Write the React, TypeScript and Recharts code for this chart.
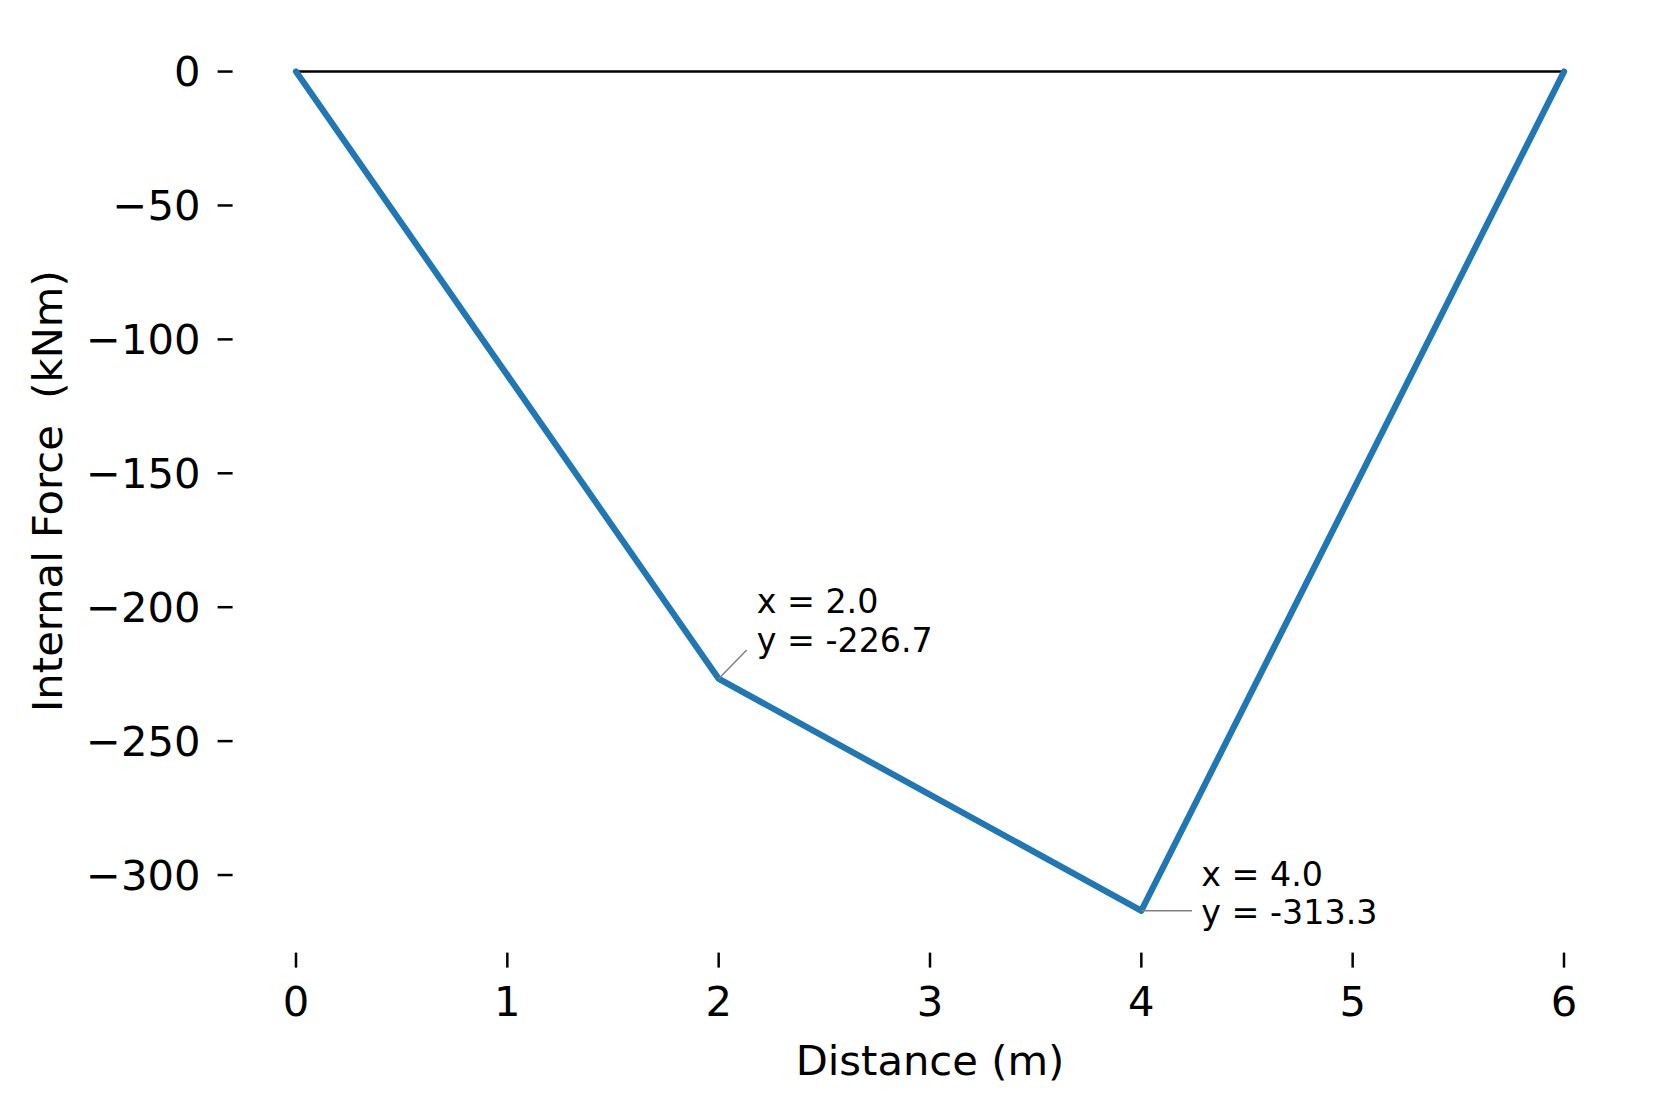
import { LineChart, Line, XAxis, YAxis, ReferenceDot } from "recharts"

// bending moment diagram
const distance = [0, 2, 4, 6]
const moment = [0, -226.7, -313.3, 0]
const xTicks = [0, 1, 2, 3, 4, 5, 6]
const yTicks = [-300, -250, -200, -150, -100, -50, 0]
const peaks = [
  { x: 2, y: -226.7 },
  { x: 4, y: -313.3 },
]

const FONT = "DejaVu Sans"
const BLUE = "#1f77b4"

const data = distance.map((d, i) => ({ x: d, moment: moment[i], base: 0 }))

// matplotlib-like 5% padding
const yMin = Math.min(...moment)
const yMax = Math.max(...moment)
const yPad = (yMax - yMin) * 0.05
const xPad = (distance[distance.length - 1] - distance[0]) * 0.05

const minus = (v: number) => String(v).replace("-", "\u2212")

function Annotation(props: any) {
  const { cx, cy, idx } = props
  const p = peaks[idx]
  // leader line + two line label, offsets as in the reference
  const layout =
    idx === 0
      ? { lx: 28, ly: -28.7, tx: 38, b1: -66, b2: -27 }
      : { lx: 50.7, ly: 0, tx: 60, b1: -25, b2: 13.4 }
  return (
    <g>
      <line x1={cx} y1={cy} x2={cx + layout.lx} y2={cy + layout.ly} stroke="#808080" strokeWidth={1.5} />
      <text x={cx + layout.tx} y={cy + layout.b1} fontFamily={FONT} fontSize={33.3} fill="#000">
        {`x = ${p.x.toFixed(1)}`}
      </text>
      <text x={cx + layout.tx} y={cy + layout.b2} fontFamily={FONT} fontSize={33.3} fill="#000">
        {`y = ${p.y.toFixed(1)}`}
      </text>
    </g>
  )
}

function YLabel(props: any) {
  const vb = props.viewBox
  const cx = vb.x + 62.5
  const cy = vb.y + vb.height / 2
  return (
    <text
      x={cx}
      y={cy}
      transform={`rotate(-90 ${cx} ${cy})`}
      textAnchor="middle"
      fontFamily={FONT}
      fontSize={41.7}
      fill="#000"
      style={{ whiteSpace: "pre" }}
    >
      Internal Force  (kNm)
    </text>
  )
}

function XLabel(props: any) {
  const vb = props.viewBox
  return (
    <text x={vb.x + vb.width / 2} y={vb.y + 122.4} textAnchor="middle" fontFamily={FONT} fontSize={41.7} fill="#000">
      Distance (m)
    </text>
  )
}

export default function App() {
  return (
    <div style={{ position: "absolute", left: 0, top: 0, background: "#fff" }}>
      <LineChart width={1650} height={1100} data={data} margin={{ top: 29.6, right: 22.6, left: 0, bottom: 0 }}>
        <XAxis
          type="number"
          dataKey="x"
          domain={[distance[0] - xPad, distance[distance.length - 1] + xPad]}
          ticks={xTicks}
          allowDataOverflow
          axisLine={false}
          tickSize={15}
          tickMargin={19}
          tickLine={{ stroke: "#000", strokeWidth: 2.5 }}
          tick={{ fill: "#000", fontFamily: FONT, fontSize: 41.7 }}
          height={147.4}
          label={{ content: XLabel }}
        />
        <YAxis
          type="number"
          domain={[yMin - yPad, yMax + yPad]}
          ticks={yTicks}
          allowDataOverflow
          axisLine={false}
          tickSize={15}
          tickMargin={17}
          tickLine={{ stroke: "#000", strokeWidth: 2.5 }}
          tick={{ fill: "#000", fontFamily: FONT, fontSize: 41.7 }}
          tickFormatter={minus}
          width={232.6}
          label={{ content: YLabel }}
        />
        <Line
          type="linear"
          dataKey="base"
          stroke="#000"
          strokeWidth={2.5}
          dot={false}
          activeDot={false}
          isAnimationActive={false}
        />
        <Line
          type="linear"
          dataKey="moment"
          stroke={BLUE}
          strokeWidth={6.25}
          strokeLinecap="round"
          strokeLinejoin="round"
          dot={false}
          activeDot={false}
          isAnimationActive={false}
        />
        {peaks.map((p, i) => (
          <ReferenceDot
            key={i}
            x={p.x}
            y={p.y}
            r={0}
            ifOverflow="visible"
            shape={(props: any) => <Annotation {...props} idx={i} />}
          />
        ))}
      </LineChart>
    </div>
  )
}
